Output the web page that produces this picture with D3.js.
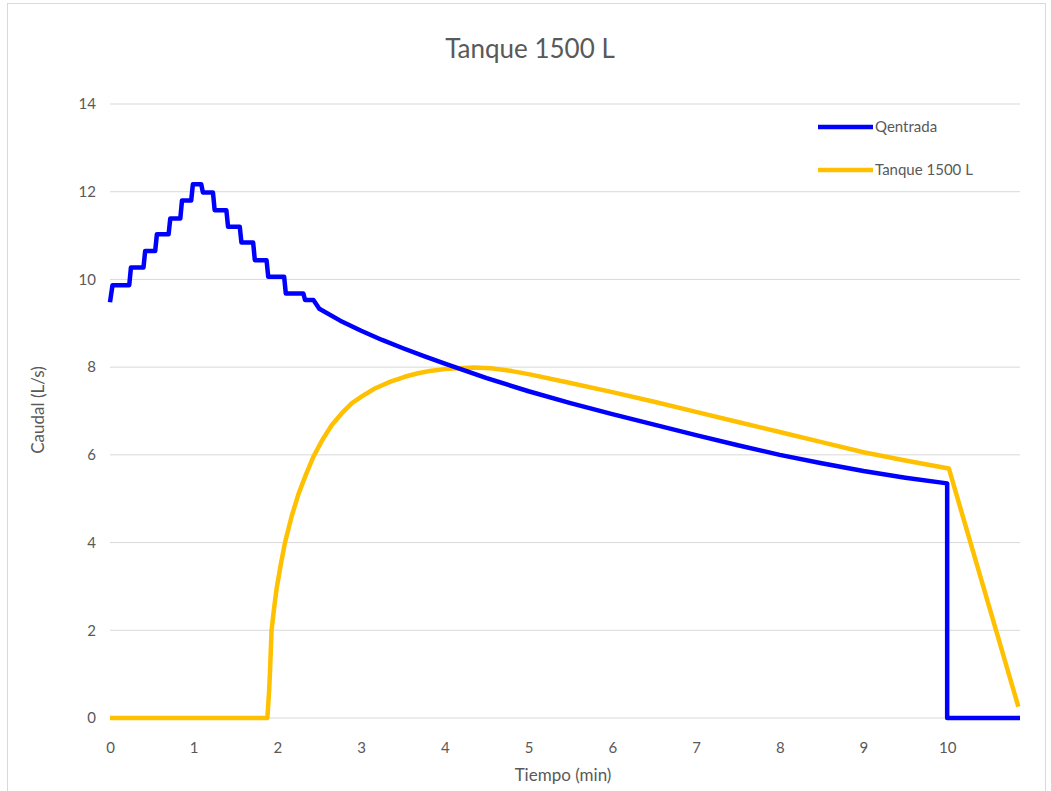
<!DOCTYPE html>
<html>
<head>
<meta charset="utf-8">
<script src="https://cdn.jsdelivr.net/npm/d3@7"></script>
<style>
  body { margin: 0; background: #fff; }
  text { font-family: Lato, "Open Sans", sans-serif; fill: #595959; }
</style>
</head>
<body>
<svg id="chart" width="1051" height="791"></svg>
<script>
// Qentrada (blue) - staircase then smooth decay
var qentradaT = [0, 0.03, 0.23, 0.25, 0.40, 0.42, 0.54, 0.56, 0.70, 0.72, 0.84, 0.86, 0.97, 0.99,
  1.09, 1.11, 1.23, 1.25, 1.39, 1.41, 1.55, 1.57, 1.71, 1.73, 1.87, 1.89, 2.08, 2.10, 2.31, 2.33, 2.43,
  2.5, 2.75, 3.0, 3.25, 3.5, 3.75, 4.0, 4.5, 5.0, 5.5, 6.0, 6.5, 7.0, 7.5, 8.0, 8.5, 9.0, 9.5, 10.0, 10.0, 10.87];
var qentradaQ = [9.48, 9.87, 9.87, 10.27, 10.27, 10.65, 10.65, 11.03, 11.03, 11.39, 11.39, 11.80, 11.80, 12.17,
  12.17, 11.98, 11.98, 11.58, 11.58, 11.20, 11.20, 10.84, 10.84, 10.44, 10.44, 10.06, 10.06, 9.68, 9.68, 9.53, 9.53,
  9.33, 9.06, 8.83, 8.62, 8.43, 8.25, 8.08, 7.75, 7.45, 7.18, 6.93, 6.69, 6.45, 6.22, 6.00, 5.81, 5.63, 5.48, 5.35, 0, 0];

// Tanque 1500 L (orange)
var tanqueT = [0, 1.88, 1.90, 1.91, 1.93, 1.96, 1.99, 2.04, 2.09, 2.17, 2.25, 2.34, 2.43, 2.54, 2.65, 2.77,
  2.89, 3.03, 3.17, 3.35, 3.52, 3.68, 3.84, 4.0, 4.16, 4.35, 4.55, 4.8, 5.0, 5.5, 6.0, 6.5, 7.0, 7.5, 8.0,
  8.5, 9.0, 9.5, 10.02, 10.85];
var tanqueQ = [0, 0, 0.6, 1.0, 2.0, 2.5, 2.95, 3.5, 4.0, 4.6, 5.1, 5.55, 5.96, 6.35, 6.68, 6.95,
  7.18, 7.36, 7.52, 7.67, 7.78, 7.86, 7.92, 7.955, 7.975, 7.99, 7.975, 7.91, 7.84, 7.64, 7.43, 7.21, 6.98, 6.75, 6.52,
  6.29, 6.06, 5.87, 5.69, 0.26];

var xTicks = [0, 1, 2, 3, 4, 5, 6, 7, 8, 9, 10];
var yTicks = [0, 2, 4, 6, 8, 10, 12, 14];

var svg = d3.select("#chart");

// outer border
svg.append("rect")
    .attr("x", 7.5).attr("y", 3.5)
    .attr("width", 1038).attr("height", 790)
    .attr("fill", "#fff")
    .attr("stroke", "#d9d9d9");

var x = d3.scaleLinear().domain([0, 10.87]).range([110, 1020]),
    y = d3.scaleLinear().domain([0, 14]).range([718, 104]);

// gridlines
svg.append("g").selectAll("line")
    .data(yTicks)
    .enter().append("line")
    .attr("x1", x(0)).attr("x2", x(10.87))
    .attr("y1", function(d) { return y(d); })
    .attr("y2", function(d) { return y(d); })
    .attr("stroke", "#d9d9d9")
    .attr("stroke-width", 1);

// y axis labels
var yAxis = svg.append("g")
    .attr("transform", "translate(" + x(0) + ",0)")
    .call(d3.axisLeft(y).tickValues(yTicks).tickSize(0).tickPadding(14));
yAxis.select(".domain").remove();
yAxis.selectAll("text").style("font-size", "15px").attr("fill", "#6b6b6b");

// x axis labels
var xAxis = svg.append("g")
    .attr("transform", "translate(0," + (y(0) + 22) + ")")
    .call(d3.axisBottom(x).tickValues(xTicks).tickSize(0).tickPadding(2));
xAxis.select(".domain").remove();
xAxis.selectAll("text").style("font-size", "15px").attr("fill", "#6b6b6b");

// title
svg.append("text")
    .attr("x", 530).attr("y", 58)
    .attr("text-anchor", "middle")
    .style("font-size", "26px")
    .text("Tanque 1500 L");

// axis titles
svg.append("text")
    .attr("x", 563).attr("y", 781)
    .attr("text-anchor", "middle")
    .style("font-size", "17px")
    .text("Tiempo (min)");

svg.append("text")
    .attr("transform", "translate(44,410) rotate(-90)")
    .attr("text-anchor", "middle")
    .style("font-size", "17px")
    .text("Caudal (L/s)");

// lines
var blueData = qentradaT.map(function(t, i) { return [t, qentradaQ[i]]; });
var orangeData = tanqueT.map(function(t, i) { return [t, tanqueQ[i]]; });

var line = d3.line()
    .x(function(d) { return x(d[0]); })
    .y(function(d) { return y(d[1]); });

svg.append("path")
    .datum(orangeData)
    .attr("fill", "none")
    .attr("stroke", "#ffc000")
    .attr("stroke-width", 4.5)
    .attr("stroke-linejoin", "round")
    .attr("d", line);

svg.append("path")
    .datum(blueData)
    .attr("fill", "none")
    .attr("stroke", "#0000ff")
    .attr("stroke-width", 4.5)
    .attr("stroke-linejoin", "round")
    .attr("d", line);

// legend
var legend = [
  {name: "Qentrada", color: "#0000ff", y: 127},
  {name: "Tanque 1500 L", color: "#ffc000", y: 170}
];
var lg = svg.append("g").selectAll("g")
    .data(legend)
    .enter().append("g");
lg.append("line")
    .attr("x1", 818).attr("x2", 873)
    .attr("y1", function(d) { return d.y; })
    .attr("y2", function(d) { return d.y; })
    .attr("stroke", function(d) { return d.color; })
    .attr("stroke-width", 4.5);
lg.append("text")
    .attr("x", 875)
    .attr("y", function(d) { return d.y + 5; })
    .style("font-size", "15px")
    .text(function(d) { return d.name; });
</script>
</body>
</html>
